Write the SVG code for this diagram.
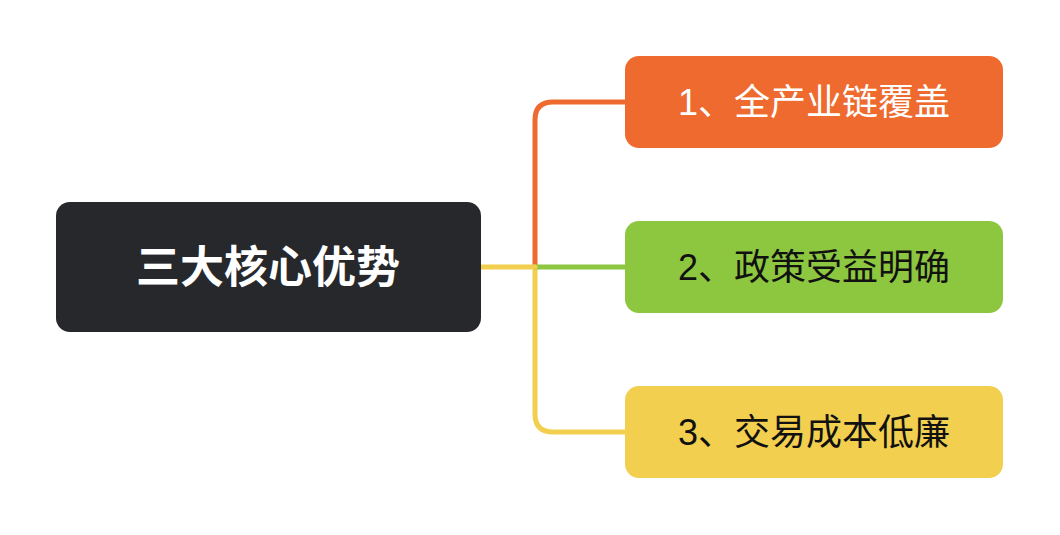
<svg xmlns="http://www.w3.org/2000/svg" width="1060" height="535" viewBox="0 0 1060 535">
<style>
.c{fill:none;stroke-width:5;stroke-linecap:round}
.t{font-family:"Liberation Sans","Noto Sans CJK SC",sans-serif;font-size:36px;text-anchor:middle;dominant-baseline:central}
</style>
<rect width="1060" height="535" fill="#fff"/>
<g id="connectors">
<path class="c" stroke="#ee6a2f" d="M535 267 V120 Q535 102 553 102 H625"/>
<path class="c" stroke="#f2cf4f" d="M535 267 V414 Q535 432 553 432 H625"/>
<path class="c" stroke="#8dc63f" d="M535 267 H625"/>
<path class="c" stroke="#f2cf4f" d="M481 267 H535"/>
</g>
<g id="center">
<rect x="56" y="202" width="425" height="130" rx="14" fill="#27282c"/>
<text class="t" x="268" y="267" fill="#fff" font-size="44" font-weight="bold" style="font-size:44px">三大核心优势</text>
</g>
<g id="n1">
<rect x="625" y="56" width="378" height="92" rx="14" fill="#ee6a2f"/>
<text class="t" x="814" y="102" fill="#fff">1、全产业链覆盖</text>
</g>
<g id="n2">
<rect x="625" y="221" width="378" height="92" rx="14" fill="#8dc63f"/>
<text class="t" x="814" y="267" fill="#111">2、政策受益明确</text>
</g>
<g id="n3">
<rect x="625" y="386" width="378" height="92" rx="14" fill="#f2cf4f"/>
<text class="t" x="814" y="432" fill="#111">3、交易成本低廉</text>
</g>
</svg>
